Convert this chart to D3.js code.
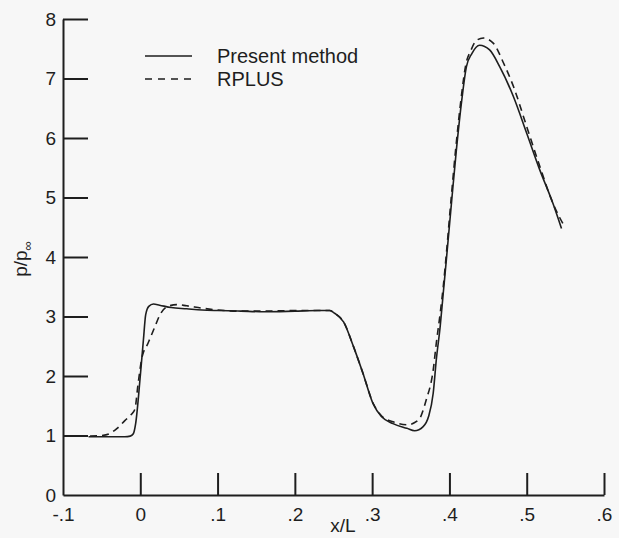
<!DOCTYPE html>
<html>
<head>
<meta charset="utf-8">
<script src="https://cdn.jsdelivr.net/npm/d3@7"></script>
<style>
  html, body { margin: 0; padding: 0; background: #f7f7f7; }
  svg { display: block; }
  text { font-family: "Liberation Sans", Arial, Helvetica, sans-serif; fill: #1e1e1e; }
</style>
</head>
<body>
<svg id="chart" width="619" height="538"></svg>
<script>
// ---- data ----
const presentX = [-0.067, -0.04, -0.02, -0.013, -0.009, -0.006, 0.0, 0.004, 0.007, 0.011, 0.017, 0.025, 0.04, 0.06, 0.08, 0.1, 0.13, 0.16, 0.2, 0.23, 0.245, 0.252, 0.263, 0.276, 0.288, 0.301, 0.312, 0.327, 0.345, 0.355, 0.366, 0.373, 0.379, 0.383, 0.388, 0.392, 0.396, 0.403, 0.409, 0.416, 0.422, 0.429, 0.439, 0.452, 0.465, 0.483, 0.5, 0.517, 0.534, 0.545];
const presentY = [0.98, 0.98, 0.98, 0.99, 1.03, 1.2, 2.0, 2.6, 3.03, 3.17, 3.21, 3.19, 3.15, 3.13, 3.11, 3.1, 3.09, 3.08, 3.09, 3.1, 3.1, 3.05, 2.91, 2.49, 2.05, 1.54, 1.32, 1.2, 1.12, 1.08, 1.15, 1.32, 1.71, 2.27, 2.83, 3.39, 3.95, 4.96, 5.8, 6.64, 7.2, 7.42, 7.56, 7.48, 7.2, 6.69, 6.08, 5.46, 4.9, 4.48];

const rplusX = [-0.065, -0.05, -0.04, -0.03, -0.02, -0.012, -0.007, -0.003, 0.002, 0.01, 0.019, 0.0255, 0.034, 0.047, 0.06, 0.08, 0.1, 0.13, 0.16, 0.2, 0.23, 0.245, 0.252, 0.263, 0.276, 0.288, 0.301, 0.312, 0.327, 0.345, 0.36, 0.37, 0.379, 0.383, 0.388, 0.392, 0.396, 0.402, 0.408, 0.415, 0.421, 0.428, 0.435, 0.444, 0.457, 0.47, 0.483, 0.5, 0.517, 0.534, 0.549];
const rplusY = [0.99, 1.0, 1.03, 1.12, 1.25, 1.35, 1.44, 1.85, 2.3, 2.55, 2.83, 3.03, 3.16, 3.2, 3.18, 3.14, 3.11, 3.09, 3.09, 3.1, 3.1, 3.1, 3.05, 2.91, 2.49, 2.05, 1.55, 1.33, 1.23, 1.18, 1.26, 1.6, 2.1, 2.55, 3.05, 3.5, 4.05, 4.95, 5.8, 6.65, 7.22, 7.48, 7.64, 7.68, 7.59, 7.26, 6.86, 6.19, 5.52, 4.9, 4.51];

const xTickValues = [-0.1, 0, 0.1, 0.2, 0.3, 0.4, 0.5, 0.6];
const xTickLabels = ["-.1", "0", ".1", ".2", ".3", ".4", ".5", ".6"];
const yTickValues = [0, 1, 2, 3, 4, 5, 6, 7, 8];
const yTickLabels = ["0", "1", "2", "3", "4", "5", "6", "7", "8"];

const seriesNames = ["Present method", "RPLUS"];
const xTitle = "x/L";

// ---- drawing ----
const svg = d3.select("#chart");
const ink = "#1e1e1e";

svg.append("rect").attr("width", 619).attr("height", 538).attr("fill", "#f7f7f7");

const x = d3.scaleLinear().domain([-0.1, 0.6]).range([63, 604]);
const y = d3.scaleLinear().domain([0, 8]).range([495, 19]);

// y axis with inward ticks
const yAxis = d3.axisLeft(y)
  .tickValues(yTickValues)
  .tickFormat((d, i) => yTickLabels[i])
  .tickSize(-25).tickSizeOuter(0).tickPadding(7);
const gy = svg.append("g").attr("transform", `translate(${x(-0.1)},0)`).call(yAxis);
gy.select(".domain").attr("stroke", ink).attr("stroke-width", 2);
gy.selectAll(".tick line").attr("stroke", ink).attr("stroke-width", 2)
  .attr("display", d => d === 0 ? "none" : null);
gy.selectAll(".tick text").attr("font-size", 19).attr("fill", ink)
  .attr("font-family", "Liberation Sans, Arial, sans-serif");

// x axis with upward ticks
const xAxis = d3.axisBottom(x)
  .tickValues(xTickValues)
  .tickFormat((d, i) => xTickLabels[i])
  .tickSize(-22).tickSizeOuter(0).tickPadding(12);
const gx = svg.append("g").attr("transform", `translate(0,${y(0)})`).call(xAxis);
gx.select(".domain").attr("stroke", ink).attr("stroke-width", 2);
gx.selectAll(".tick line").attr("stroke", ink).attr("stroke-width", 2)
  .attr("display", d => Math.abs(d + 0.1) < 1e-9 ? "none" : null);
gx.selectAll(".tick text").attr("font-size", 19).attr("fill", ink)
  .attr("font-family", "Liberation Sans, Arial, sans-serif")
  .attr("dy", "0.72em");

// axis titles
svg.append("text")
  .attr("x", 343).attr("y", 532)
  .attr("text-anchor", "middle")
  .attr("font-size", 19)
  .text(xTitle);

const yt = svg.append("text")
  .attr("transform", "translate(27,259) rotate(-90)")
  .attr("text-anchor", "middle")
  .attr("font-size", 19);
yt.append("tspan").text("p/p");
yt.append("tspan").attr("font-size", 13).attr("dy", 5).text("∞");

// lines
const line = d3.line()
  .x(d => x(d[0]))
  .y(d => y(d[1]))
  .curve(d3.curveMonotoneX);

const presentData = d3.zip(presentX, presentY);
const rplusData = d3.zip(rplusX, rplusY);

svg.append("path")
  .datum(rplusData)
  .attr("fill", "none")
  .attr("stroke", ink)
  .attr("stroke-width", 1.6)
  .attr("stroke-dasharray", "7,5")
  .attr("d", line);

svg.append("path")
  .datum(presentData)
  .attr("fill", "none")
  .attr("stroke", ink)
  .attr("stroke-width", 1.6)
  .attr("d", line);

// legend
const legend = svg.append("g");
const legendRows = [
  { name: seriesNames[0], dash: null, ly: 56 },
  { name: seriesNames[1], dash: "7,6", ly: 79 }
];
legendRows.forEach(r => {
  legend.append("line")
    .attr("x1", 145).attr("x2", 192)
    .attr("y1", r.ly).attr("y2", r.ly)
    .attr("stroke", ink).attr("stroke-width", 1.6)
    .attr("stroke-dasharray", r.dash);
  legend.append("text")
    .attr("x", 217).attr("y", r.ly + 7)
    .attr("font-size", 20)
    .text(r.name);
});
</script>
</body>
</html>
